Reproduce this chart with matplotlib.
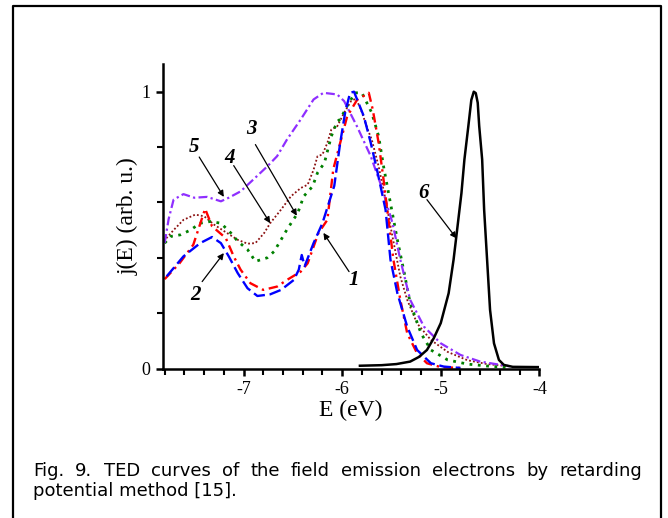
import numpy as np
import matplotlib
matplotlib.use("Agg")
import matplotlib.pyplot as plt
from matplotlib.lines import Line2D

plt.rcParams['axes.unicode_minus'] = False

# curve 1 (blue dashed)
e1 = [-7.78, -7.61, -7.44, -7.32, -7.23, -7.15, -7.06, -6.96, -6.86, -6.73, -6.62, -6.49,
      -6.44, -6.41, -6.38, -6.29, -6.20, -6.08, -6.02, -5.97, -5.92, -5.88, -5.78, -5.71,
      -5.64, -5.56, -5.51, -5.44, -5.34, -5.24, -5.10, -4.97, -4.80]
j1 = [0.333, 0.405, 0.453, 0.475, 0.453, 0.405, 0.345, 0.290, 0.262, 0.268, 0.284, 0.320,
      0.357, 0.410, 0.370, 0.453, 0.525, 0.660, 0.815, 0.924, 0.996, 1.000, 0.911, 0.815,
      0.707, 0.574, 0.393, 0.272, 0.151, 0.067, 0.019, 0.007, 0.002]

# curve 2 (red dash-dot)
e2 = [-7.80, -7.65, -7.51, -7.39, -7.32, -7.18, -7.10, -7.03, -6.93, -6.80, -6.66, -6.56,
      -6.42, -6.35, -6.24, -6.15, -6.09, -5.95, -5.85, -5.73, -5.69, -5.63, -5.58, -5.53,
      -5.48, -5.41, -5.34, -5.24, -5.14, -5.00, -4.80]
j2 = [0.323, 0.380, 0.447, 0.577, 0.514, 0.471, 0.405, 0.357, 0.308, 0.284, 0.296, 0.320,
      0.350, 0.380, 0.490, 0.537, 0.720, 0.910, 0.970, 0.996, 0.936, 0.815, 0.682, 0.537,
      0.393, 0.248, 0.127, 0.055, 0.019, 0.005, 0.002]

# curve 3 (green dotted)
e3 = [-7.80, -7.74, -7.64, -7.54, -7.44, -7.34, -7.23, -7.13, -7.06, -6.96, -6.88, -6.76,
      -6.69, -6.62, -6.56, -6.45, -6.39, -6.30, -6.25, -6.18, -6.11, -6.05, -6.02, -5.95,
      -5.87, -5.80, -5.70, -5.63, -5.58, -5.51, -5.44, -5.37, -5.31, -5.20, -5.10, -4.93,
      -4.73, -4.53, -4.33]
j3 = [0.453, 0.477, 0.483, 0.500, 0.525, 0.531, 0.525, 0.490, 0.460, 0.430, 0.387, 0.400,
      0.423, 0.465, 0.502, 0.562, 0.622, 0.658, 0.707, 0.743, 0.839, 0.893, 0.900, 0.948,
      0.996, 0.996, 0.924, 0.839, 0.730, 0.597, 0.465, 0.345, 0.236, 0.127, 0.067, 0.031,
      0.016, 0.009, 0.004]

# curve 4 (brown fine dotted)
e4 = [-7.81, -7.71, -7.61, -7.49, -7.40, -7.30, -7.17, -7.06, -6.96, -6.88, -6.79, -6.73,
      -6.62, -6.52, -6.42, -6.35, -6.29, -6.25, -6.20, -6.15, -6.11, -6.05, -5.98, -5.91,
      -5.86, -5.81, -5.74, -5.70, -5.63, -5.56, -5.49, -5.41, -5.34, -5.24, -5.10, -4.93,
      -4.73, -4.53, -4.33]
j4 = [0.460, 0.500, 0.537, 0.556, 0.550, 0.520, 0.490, 0.465, 0.451, 0.453, 0.490, 0.525,
      0.574, 0.622, 0.652, 0.664, 0.718, 0.767, 0.773, 0.815, 0.863, 0.875, 0.924, 0.966,
      0.975, 0.936, 0.863, 0.827, 0.730, 0.610, 0.477, 0.332, 0.248, 0.163, 0.103, 0.060,
      0.030, 0.016, 0.009]

# curve 5 (violet dash-dot)
e5 = [-7.80, -7.76, -7.71, -7.61, -7.50, -7.37, -7.23, -7.15, -7.03, -6.90, -6.76, -6.66,
      -6.56, -6.42, -6.29, -6.19, -6.05, -5.98, -5.85, -5.71, -5.59, -5.49, -5.41, -5.31,
      -5.17, -5.00, -4.80, -4.60, -4.39, -4.30]
j5 = [0.454, 0.540, 0.610, 0.630, 0.617, 0.620, 0.604, 0.617, 0.640, 0.683, 0.730, 0.767,
      0.827, 0.900, 0.972, 0.996, 0.990, 0.966, 0.875, 0.767, 0.646, 0.526, 0.393, 0.248,
      0.151, 0.091, 0.049, 0.025, 0.013, 0.008]

# curve 6 (black solid)
e6 = [-5.82, -5.60, -5.45, -5.31, -5.22, -5.14, -5.07, -5.00, -4.92, -4.87, -4.83, -4.79,
      -4.76, -4.72, -4.69, -4.665, -4.645, -4.625, -4.61, -4.58, -4.56, -4.53, -4.50, -4.46,
      -4.41, -4.36, -4.27, -4.00]
j6 = [0.010, 0.012, 0.016, 0.025, 0.042, 0.067, 0.110, 0.164, 0.272, 0.393, 0.513, 0.634,
      0.755, 0.876, 0.970, 1.000, 0.995, 0.960, 0.876, 0.755, 0.574, 0.393, 0.212, 0.091,
      0.031, 0.013, 0.006, 0.005]

labels = ["1", "2", "3", "4", "5", "6"]
caption = ["Fig. 9.  TED curves of the field emission electrons by retarding",
           "potential method [15]."]

fig = plt.figure(figsize=(6.68, 5.18), dpi=100)
ax = fig.add_axes([0.2436, 0.2886, 0.5638, 0.5878])

ax.plot(e4, j4, color='#8b1010', lw=1.3, ls=(0, (1, 1.2)))
ax.plot(e3, j3, color='#008000', lw=2.0, ls=(0, (1, 2)))
ax.plot(e5, j5, color='#8f2fff', lw=1.6, ls=(0, (4, 1.5, 1, 1.5)))
ax.plot(e2, j2, color='#ff0000', lw=1.7, ls=(0, (4, 2, 1, 2)))
ax.plot(e1, j1, color='#0000ff', lw=1.7, ls=(0, (5, 2)))
ax.plot(e6, j6, color='black', lw=1.8)

ax.set_xlim(-7.82, -4)
ax.set_ylim(0, 1.1)
ax.set_xticks([-7, -6, -5, -4])
ax.set_xticks(np.arange(-7.8, -3.99, 0.2), minor=True)
ax.set_yticks([0, 1])
ax.set_yticks([0.2, 0.4, 0.6, 0.8], minor=True)
for s in ['top', 'right']:
    ax.spines[s].set_visible(False)
for s in ['left', 'bottom']:
    ax.spines[s].set_linewidth(1.8)
ax.tick_params(which='major', direction='out', length=5, width=1.8, pad=4,
               labelsize=13, labelfontfamily='Liberation Serif')
ax.tick_params(which='minor', direction='out', length=4, width=1.5)
ax.set_xlabel('E (eV)', family='Liberation Serif', fontsize=17, labelpad=1)
ax.set_ylabel('j(E) (arb. u.)', family='Liberation Serif', fontsize=17, labelpad=2)

# numbered labels with arrows: text pos, arrow tail, arrow head
text_pos = [(-5.88, 0.32), (-7.49, 0.266), (-6.92, 0.866), (-7.14, 0.761), (-7.50, 0.80), (-5.17, 0.634)]
tails = [(-5.93, 0.35), (-7.42, 0.314), (-6.88, 0.809), (-7.10, 0.733), (-7.45, 0.764), (-5.14, 0.61)]
heads = [(-6.19, 0.49), (-7.20, 0.417), (-6.46, 0.552), (-6.73, 0.525), (-7.20, 0.62), (-4.84, 0.47)]
for lab, tp, tl, hd in zip(labels, text_pos, tails, heads):
    ax.text(tp[0], tp[1], lab, family='Liberation Serif', fontsize=15,
            fontweight='bold', style='italic', ha='center', va='center')
    ax.annotate('', xy=hd, xytext=tl,
                arrowprops=dict(arrowstyle='-|>', color='black', lw=0.9,
                                mutation_scale=9, shrinkA=0, shrinkB=0))

# caption: first line justified between x=33 and x=642 px
W, H = 668, 518
cap_font = dict(family='DejaVu Sans', fontsize=13, va='baseline', ha='left')
renderer = fig.canvas.get_renderer()
words = caption[0].split()
txts = [fig.text(0, 1 - 476 / H, w, **cap_font) for w in words]
widths = [t.get_window_extent(renderer).width for t in txts]
gap = (642 - 33 - sum(widths)) / (len(words) - 1)
x = 33
for t, w in zip(txts, widths):
    t.set_x(x / W)
    x += w + gap
fig.text(33 / W, 1 - 496 / H, caption[1], **cap_font)

# frame around the figure (no bottom edge)
fig.add_artist(Line2D([13 / W, 13 / W, 661 / W, 661 / W],
                      [0, 1 - 6 / H, 1 - 6 / H, 0],
                      transform=fig.transFigure, color='black', lw=1.6))

fig.savefig('out.png', dpi=100)
